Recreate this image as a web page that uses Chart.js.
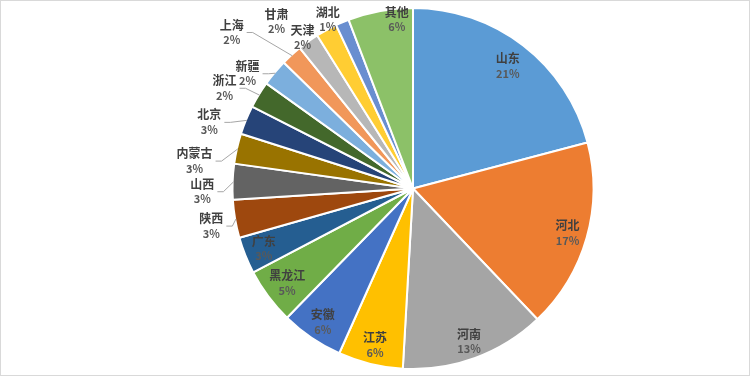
<!DOCTYPE html>
<html>
<head>
<meta charset="utf-8">
<script src="https://cdn.jsdelivr.net/npm/chart.js@4/dist/chart.umd.min.js"></script>
<style>
  body { margin: 0; background: #fff; }
  #wrap { width: 750px; height: 376px; }
</style>
</head>
<body>
<div id="wrap"><canvas id="pie" width="750" height="376"></canvas></div>
<script>
// provinces, clockwise from 12 o'clock
const provinces = ['山东', '河北', '河南', '江苏', '安徽', '黑龙江', '广东', '陕西', '山西', '内蒙古',
  '北京', '浙江', '新疆', '上海', '甘肃', '天津', '湖北', '其他'];
const shares = [20.9, 17.0, 13.0, 5.8, 5.6, 5.0, 3.3, 3.4, 3.2, 2.7,
  2.6, 2.4, 2.4, 1.9, 1.9, 1.9, 1.2, 5.8];
const sliceColors = ['#5B9BD5', '#ED7D31', '#A5A5A5', '#FFC000', '#4472C4', '#70AD47',
  '#255E91', '#9E480E', '#636363', '#997300', '#264478', '#43682B',
  '#7CAFDD', '#F1975A', '#B7B7B7', '#FFCD33', '#698ED0', '#8CC168'];

// label placement: radius factor, angle nudge (deg), leader line?
const placement = {
  '山东': [0.86, 0], '河北': [0.89, 0], '河南': [0.9, 0], '江苏': [0.89, 0],
  '安徽': [0.89, 0], '黑龙江': [0.87, 0], '广东': [0.89, 0],
  '陕西': [1.136, -0.7, true], '山西': [1.167, -2.9, true], '内蒙古': [1.22, -5.5, true],
  '北京': [1.187, -4.2, true], '浙江': [1.184, -3.2, true], '新疆': [1.117, -5.1, true],
  '上海': [1.327, -6.9, true], '甘肃': [1.197, -3.7, false], '天津': [1.038, -7.5, false],
  '湖北': [1.05, -3.7, false], '其他': [0.943, 5.0, false]
};

const frame = {
  id: 'frame',
  beforeDraw(chart) {
    const c = chart.ctx;
    c.save();
    c.fillStyle = '#fff';
    c.fillRect(0, 0, chart.width, chart.height);
    c.strokeStyle = '#d9d9d9';
    c.lineWidth = 1;
    c.strokeRect(0.5, 0.5, chart.width - 1, chart.height - 1);
    c.restore();
  }
};

const sliceLabels = {
  id: 'sliceLabels',
  afterDatasetsDraw(chart) {
    const c = chart.ctx;
    const total = shares.reduce((a, b) => a + b, 0);
    chart.getDatasetMeta(0).data.forEach((arc, i) => {
      const name = provinces[i];
      const p = placement[name];
      const realMid = (arc.startAngle + arc.endAngle) / 2;
      const mid = realMid + p[1] * Math.PI / 180;
      const r = arc.outerRadius * p[0];
      const x = arc.x + Math.cos(mid) * r;
      const y = arc.y + Math.sin(mid) * r;
      const pct = Math.round(shares[i] / total * 100) + '%';

      c.save();
      c.font = 'bold 12px "Noto Sans CJK SC"';
      const w = c.measureText(name).width;
      if (p[2]) {
        // excel-like leader: short horizontal stub, then to slice edge
        const ex = arc.x + Math.cos(realMid) * (arc.outerRadius - 1);
        const ey = arc.y + Math.sin(realMid) * (arc.outerRadius - 1);
        const sx = x + w / 2 + 3;
        c.strokeStyle = '#a6a6a6';
        c.lineWidth = 1;
        c.beginPath();
        c.moveTo(sx, y + 0.5);
        c.lineTo(Math.min(sx + 6, ex), y + 0.5);
        c.lineTo(ex, ey);
        c.stroke();
      }
      c.textAlign = 'center';
      c.textBaseline = 'middle';
      c.fillStyle = '#404040';
      c.fillText(name, x, y - 7);
      c.font = 'bold 11px "Noto Sans CJK SC"';
      c.fillStyle = '#595959';
      c.fillText(pct, x, y + 8);
      c.restore();
    });
  }
};

new Chart(document.getElementById('pie'), {
  type: 'pie',
  data: {
    labels: provinces,
    datasets: [{
      data: shares,
      backgroundColor: sliceColors,
      borderColor: '#fff',
      borderWidth: 2
    }]
  },
  options: {
    responsive: false,
    animation: false,
    layout: { padding: { top: 7, bottom: 6, left: 76, right: 0 } },
    plugins: {
      legend: { display: false },
      tooltip: { enabled: false }
    }
  },
  plugins: [frame, sliceLabels]
});
</script>
</body>
</html>
